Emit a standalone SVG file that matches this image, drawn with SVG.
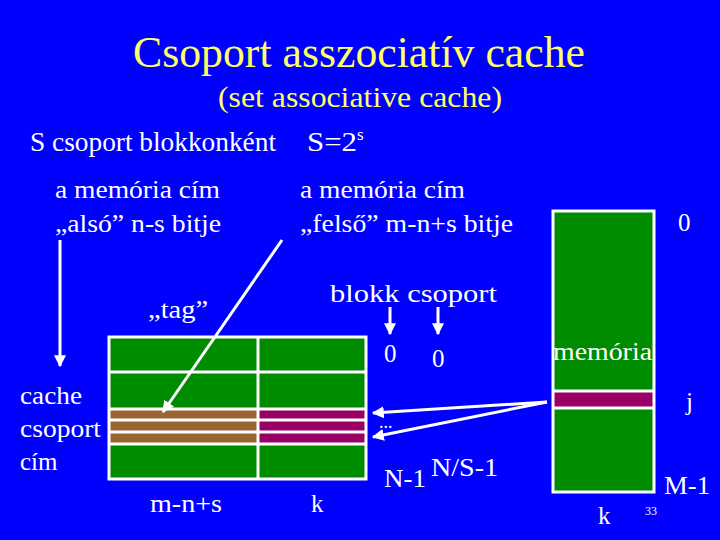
<svg xmlns="http://www.w3.org/2000/svg" width="720" height="540" viewBox="0 0 720 540" font-family="Liberation Serif, Times New Roman, serif">
<defs>
<style>
text{fill:#fff}
.t{fill:#ffff66}
.c{stroke:#fff;stroke-width:3;fill:none}
.g{fill:#008c00}
.b{fill:#996633}
.p{fill:#990066}
</style>
<marker id="ah" viewBox="0 0 10 10" refX="9" refY="5" markerWidth="4" markerHeight="4" orient="auto" markerUnits="strokeWidth">
<path d="M0,0 L10,5 L0,10 z" fill="#fff"/>
</marker>
</defs>
<rect width="720" height="540" fill="#0000ff"/>
<g id="title" font-family="Liberation Serif, serif">
<text class="t" x="359" y="67" font-size="44" text-anchor="middle" textLength="452" lengthAdjust="spacingAndGlyphs">Csoport asszociatív cache</text>
<text class="t" x="360" y="107" font-size="30" text-anchor="middle" textLength="284" lengthAdjust="spacingAndGlyphs">(set associative cache)</text>
</g>
<g id="subtitle" font-family="Liberation Serif, serif">
<text x="30" y="151" font-size="27" textLength="246" lengthAdjust="spacingAndGlyphs">S csoport blokkonként</text>
<text x="307" y="151" font-size="27" textLength="50" lengthAdjust="spacingAndGlyphs">S=2</text>
<text x="357" y="140" font-size="17">s</text>
</g>
<g id="labels" font-family="Liberation Serif, serif">
<text x="55" y="198" font-size="25" textLength="165" lengthAdjust="spacingAndGlyphs">a memória cím</text>
<text x="55" y="232" font-size="25" textLength="166" lengthAdjust="spacingAndGlyphs">„alsó” n-s bitje</text>
<text x="300" y="198" font-size="25" textLength="165" lengthAdjust="spacingAndGlyphs">a memória cím</text>
<text x="300" y="232" font-size="25" textLength="213" lengthAdjust="spacingAndGlyphs">„felső” m-n+s bitje</text>
<text x="330" y="302" font-size="25" textLength="167" lengthAdjust="spacingAndGlyphs">blokk  csoport</text>
<text x="148" y="318" font-size="25" textLength="60" lengthAdjust="spacingAndGlyphs">„tag”</text>
<text x="384" y="362" font-size="25">0</text>
<text x="432" y="367" font-size="25">0</text>
<text x="20" y="404" font-size="25" textLength="62" lengthAdjust="spacingAndGlyphs">cache</text>
<text x="20" y="437" font-size="25" textLength="81" lengthAdjust="spacingAndGlyphs">csoport</text>
<text x="20" y="470" font-size="25">cím</text>
<text x="150" y="512" font-size="25" textLength="72" lengthAdjust="spacingAndGlyphs">m-n+s</text>
<text x="311" y="512" font-size="25">k</text>
<text x="379" y="428" font-size="18">...</text>
<text x="384" y="487" font-size="25" textLength="42" lengthAdjust="spacingAndGlyphs">N-1</text>
<text x="431" y="476" font-size="25" textLength="67" lengthAdjust="spacingAndGlyphs">N/S-1</text>
</g>
<g id="cache">
<rect class="g" x="109" y="337" width="257" height="142"/>
<rect class="b" x="109" y="409" width="149" height="35"/>
<rect class="p" x="258" y="409" width="108" height="35"/>
<g class="c">
<rect x="109" y="337" width="257" height="142"/>
<line x1="258" y1="337" x2="258" y2="479"/>
<line x1="109" y1="372" x2="366" y2="372"/>
<line x1="109" y1="409" x2="366" y2="409"/>
<line x1="109" y1="420" x2="366" y2="420"/>
<line x1="109" y1="432" x2="366" y2="432"/>
<line x1="109" y1="444" x2="366" y2="444"/>
</g>
</g>
<g id="memory" font-family="Liberation Serif, serif">
<rect class="g" x="553" y="211" width="101" height="281"/>
<rect class="p" x="553" y="391" width="101" height="17"/>
<g class="c">
<rect x="553" y="211" width="101" height="281"/>
<line x1="553" y1="391" x2="654" y2="391"/>
<line x1="553" y1="408" x2="654" y2="408"/>
</g>
<text x="553" y="360" font-size="25" textLength="99" lengthAdjust="spacingAndGlyphs">memória</text>
<text x="678" y="231" font-size="25">0</text>
<text x="686" y="410" font-size="25">j</text>
<text x="664" y="494" font-size="25" textLength="46" lengthAdjust="spacingAndGlyphs">M-1</text>
<text x="598" y="524" font-size="25">k</text>
<text x="645" y="515" font-size="12">33</text>
</g>
<g id="connectors" class="c">
<line x1="60" y1="240" x2="60" y2="366" marker-end="url(#ah)"/>
<line x1="282" y1="240" x2="163" y2="412" marker-end="url(#ah)"/>
<line x1="390" y1="307" x2="390" y2="334" marker-end="url(#ah)"/>
<line x1="438" y1="307" x2="438" y2="334" marker-end="url(#ah)"/>
<line x1="547" y1="402" x2="373" y2="413" marker-end="url(#ah)"/>
<line x1="547" y1="402" x2="373" y2="437" marker-end="url(#ah)"/>
</g>
</svg>
